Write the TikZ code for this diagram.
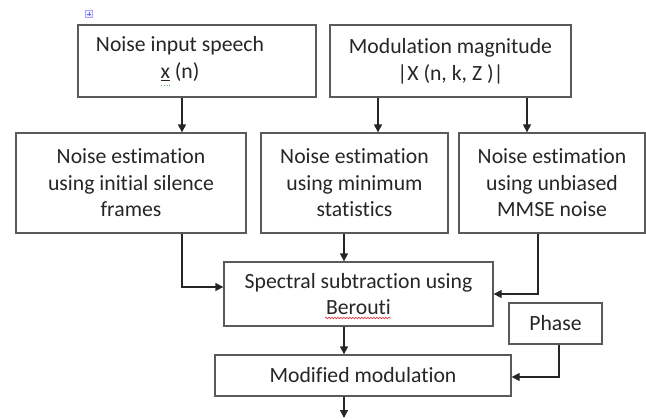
\documentclass[tikz,border=0pt]{standalone}
\usepackage{fontspec}
\setmainfont[RawFeature={-liga;-clig;-dlig;-calt;-rlig}]{Carlito}
\usetikzlibrary{arrows.meta,decorations.pathmorphing}
\definecolor{boxline}{HTML}{5A5A5A}
\definecolor{ink}{HTML}{262626}
\definecolor{spellred}{HTML}{E0404A}
\definecolor{grammargreen}{HTML}{4CAF50}
\tikzset{
  blk/.style={draw=boxline, line width=1.3pt, fill=white, inner sep=0pt,
    align=center, text=ink, font=\fontsize{21.7}{26.6}\selectfont},
  lbl/.style={inner sep=0pt, align=center, text=ink, font=\fontsize{21.7}{26.6}\selectfont},
  arr/.style={draw=ink, line width=1.3pt, -{Triangle[length=8pt,width=8pt]}}
}
\begin{document}
\begin{tikzpicture}[x=1pt, y=-1pt]
\useasboundingbox (0,0) rectangle (646,420);

% anchor marker
\node[draw=blue!35, fill=blue!6, minimum size=7pt, inner sep=0pt] (mark) at (89,14) {};
\draw[blue!60, line width=0.8pt] (mark.north) ++(0,-1.5pt) -- ([yshift=1.5pt]mark.south)
  (mark.west) ++(1.5pt,0) -- ([xshift=-1.5pt]mark.east);

% input blocks
\node[blk, minimum width=238pt, minimum height=72pt] (in) at (197,61) {};
\node[lbl] (intext) at (180,59) {Noise input speech\\\underline{x} (n)};
\draw[grammargreen, line width=0.8pt, dotted] (161,85) -- (170,85);
\node[blk, minimum width=241pt, minimum height=72pt] (mag) at (450.5,61)
  {Modulation magnitude\\|X (n, k, Z )|};

% noise estimators
\node[blk, minimum width=230pt, minimum height=100pt] (silence) at (131,183)
  {Noise estimation\\using initial silence\\frames};
\node[blk, minimum width=187pt, minimum height=100pt] (minstat) at (354.5,183)
  {Noise estimation\\using minimum\\statistics};
\node[blk, minimum width=186pt, minimum height=100pt] (mmse) at (552,183)
  {Noise estimation\\using unbiased\\MMSE noise};

% subtraction, phase and output
\node[blk, minimum width=269pt, minimum height=64pt] (sub) at (358.5,294)
  {Spectral subtraction using\\Berouti};
\draw[spellred, line width=0.7pt, decorate,
  decoration={snake, amplitude=0.8pt, segment length=3pt}] (325,318) -- (391,318);
\node[blk, minimum width=93pt, minimum height=41pt] (phase) at (555.5,323.5) {Phase};
\node[blk, minimum width=296pt, minimum height=41pt] (mod) at (363,375.5)
  {Modified modulation};

% connector guides
\coordinate (colA) at (182,0);
\coordinate (colB) at (378,0);
\coordinate (colC) at (527,0);
\coordinate (colD) at (344,0);
\coordinate (jL) at (182,287);
\coordinate (jR) at (538,294);
\coordinate (jP) at (559,377);
\coordinate (out) at (344,418);

% connectors
\draw[arr] (in.south -| colA) -- (silence.north -| colA);
\draw[arr] (mag.south -| colB) -- (minstat.north -| colB);
\draw[arr] (mag.south -| colC) -- (mmse.north -| colC);
\draw[arr] (silence.south -| jL) |- (sub.west |- jL);
\draw[arr] (minstat.south -| colD) -- (sub.north -| colD);
\draw[arr] (mmse.south -| jR) |- (sub.east |- jR);
\draw[arr] (sub.south -| colD) -- (mod.north -| colD);
\draw[arr] (phase.south -| jP) |- (mod.east |- jP);
\draw[arr] (mod.south -| colD) -- (out);
\end{tikzpicture}
\end{document}
